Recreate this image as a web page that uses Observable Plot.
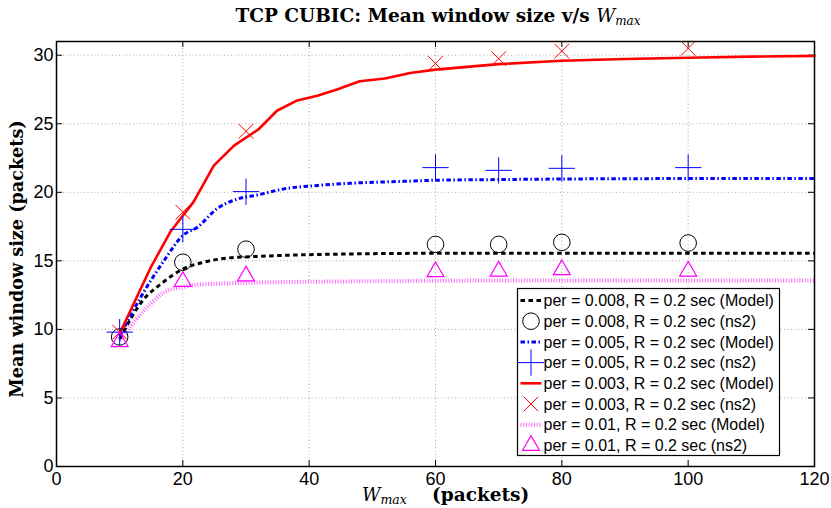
<!DOCTYPE html>
<html><head><meta charset="utf-8">
<script src="https://cdn.jsdelivr.net/npm/d3@7"></script>
<script src="https://cdn.jsdelivr.net/npm/@observablehq/plot@0.6"></script>
<style>body{margin:0;background:#fff} svg{display:block}</style>
</head><body><div id="chart"></div>
<script>
// ---- data ----
const xTicks = [0, 20, 40, 60, 80, 100, 120];
const yTicks = [0, 5, 10, 15, 20, 25, 30];

// Model curves
const redModelX = [10, 14.9, 18, 21.7, 24.9, 28.1, 32, 34.9, 38.1, 41.3, 44.4, 48, 52, 56, 60, 65, 70, 80, 90, 100, 110, 120];
const redModelY = [9.7, 14.5, 17.1, 19.3, 21.95, 23.4, 24.6, 25.95, 26.7, 27.05, 27.5, 28.1, 28.3, 28.7, 28.95, 29.15, 29.35, 29.6, 29.72, 29.82, 29.9, 29.95];
const blueModelX = [10, 14.3, 17, 20, 22.3, 25.4, 28.6, 31.8, 36, 41.3, 46.5, 55, 60, 70, 80, 100, 120];
const blueModelY = [9.5, 13.1, 15.0, 16.85, 17.45, 18.8, 19.5, 19.8, 20.25, 20.5, 20.66, 20.8, 20.88, 20.93, 20.97, 21.0, 21.0];
const blackModelX = [10, 13.8, 16.5, 20, 23.3, 27, 30.7, 36, 46, 60, 80, 100, 120];
const blackModelY = [9.3, 12.2, 13.3, 14.4, 14.9, 15.2, 15.3, 15.4, 15.5, 15.55, 15.55, 15.55, 15.55];
const pinkModelX = [10, 14.9, 17, 20, 22.8, 30, 46, 60, 80, 100, 120];
const pinkModelY = [9.2, 11.87, 12.7, 13.1, 13.27, 13.4, 13.5, 13.55, 13.57, 13.57, 13.57];

// ns2 simulation points
const ns2X = [10, 20, 30, 60, 70, 80, 100];
const circleY = [9.45, 14.9, 15.85, 16.2, 16.2, 16.35, 16.3];
const plusY = [9.8, 17.3, 20.05, 21.8, 21.6, 21.75, 21.8];
const crossY = [9.8, 18.55, 24.45, 29.4, 29.75, 30.3, 30.5];
const triangleY = [9.1, 13.5, 13.9, 14.2, 14.25, 14.35, 14.25];

const legendLabels = [
  "per = 0.008, R = 0.2 sec (Model)",
  "per = 0.008, R = 0.2 sec (ns2)",
  "per = 0.005, R = 0.2 sec (Model)",
  "per = 0.005, R = 0.2 sec (ns2)",
  "per = 0.003, R = 0.2 sec (Model)",
  "per = 0.003, R = 0.2 sec (ns2)",
  "per = 0.01, R = 0.2 sec (Model)",
  "per = 0.01, R = 0.2 sec (ns2)"
];

// ---- styles ----
const S = {
  black: {stroke: "#000", strokeWidth: 3, strokeDasharray: "4.5,3.5"},
  blue: {stroke: "#0000ff", strokeWidth: 3, strokeDasharray: "4.5,2.5,1.5,2.5"},
  red: {stroke: "#ff0000", strokeWidth: 2.6},
  pink: {stroke: "#ff66ff", strokeWidth: 4, strokeDasharray: "1,1.7"}
};
const M = {
  circle: {symbol: "circle", r: 8.3, stroke: "#000", fill: "none", strokeWidth: 1},
  plus: {symbol: "plus", r: 8.5, stroke: "#0000ff", fill: "none", strokeWidth: 1},
  times: {symbol: "times", r: 6.7, stroke: "#ff0000", fill: "none", strokeWidth: 1},
  triangle: {symbol: "triangle2", r: 8.1, stroke: "#ff00ff", fill: "none", strokeWidth: 1.2}
};

const zip = (xs, ys) => xs.map((x, i) => ({x, y: ys[i]}));

const W = 831, H = 508, mL = 56, mR = 17, mT = 41, mB = 42;
const fw = W - mL - mR, fh = H - mT - mB;

const plot = Plot.plot({
  width: W, height: H,
  marginLeft: mL, marginRight: mR, marginTop: mT, marginBottom: mB,
  style: {fontFamily: "'Liberation Sans', Arial, sans-serif", fontSize: "18px", background: "#fff", color: "#000"},
  x: {domain: [0, 120], ticks: xTicks, tickSize: 0, tickPadding: 6, label: null},
  y: {domain: [0, 31], ticks: yTicks, tickSize: 0, tickPadding: 3, label: null},
  marks: [
    Plot.ruleX(xTicks.slice(1, -1), {stroke: "#aaa", strokeDasharray: "1,2.5", strokeWidth: 1}),
    Plot.ruleY(yTicks.slice(1), {stroke: "#aaa", strokeDasharray: "1,2.5", strokeWidth: 1}),
    // inward ticks
    Plot.ruleX(xTicks, {insetTop: fh - 6, stroke: "#000", strokeWidth: 1}),
    Plot.ruleX(xTicks, {insetBottom: fh - 6, stroke: "#000", strokeWidth: 1}),
    Plot.ruleY(yTicks, {insetRight: fw - 6, stroke: "#000", strokeWidth: 1}),
    Plot.ruleY(yTicks, {insetLeft: fw - 6, stroke: "#000", strokeWidth: 1}),
    Plot.line(zip(pinkModelX, pinkModelY), {x: "x", y: "y", curve: "monotone-x", strokeLinecap: "butt", ...S.pink}),
    Plot.line(zip(blackModelX, blackModelY), {x: "x", y: "y", curve: "monotone-x", strokeLinecap: "butt", ...S.black}),
    Plot.line(zip(blueModelX, blueModelY), {x: "x", y: "y", curve: "monotone-x", strokeLinecap: "butt", ...S.blue}),
    Plot.line(zip(redModelX, redModelY), {x: "x", y: "y", curve: "linear", ...S.red}),
    Plot.dot(zip(ns2X, circleY), {x: "x", y: "y", ...M.circle}),
    Plot.dot(zip(ns2X, plusY), {x: "x", y: "y", ...M.plus}),
    Plot.dot(zip(ns2X, crossY), {x: "x", y: "y", ...M.times}),
    Plot.dot(zip(ns2X, triangleY), {x: "x", y: "y", ...M.triangle}),
    Plot.frame({stroke: "#000", strokeWidth: 1.5})
  ]
});
document.getElementById("chart").appendChild(plot);

const svg = d3.select(plot);
const serif = "'DejaVu Serif', serif";

// Title
const t = svg.append("text").attr("x", 438).attr("y", 22).attr("text-anchor", "middle")
  .attr("font-family", serif).attr("font-size", 18.5).attr("font-weight", "bold").attr("fill", "#000");
t.append("tspan").text("TCP CUBIC: Mean window size v/s ");
t.append("tspan").attr("font-style", "italic").attr("font-weight", "normal").text("W");
t.append("tspan").attr("font-style", "italic").attr("font-weight", "normal").attr("font-size", 12).attr("dy", 3).text("max");

// Y label
svg.append("text").attr("transform", "translate(23,259) rotate(-90)").attr("text-anchor", "middle")
  .attr("font-family", serif).attr("font-size", 17.6).attr("font-weight", "bold").attr("fill", "#000")
  .text("Mean window size (packets)");

// X label
const xl = svg.append("text").attr("x", 362).attr("y", 501).attr("text-anchor", "start")
  .attr("font-family", serif).attr("font-size", 18).attr("fill", "#000");
xl.append("tspan").attr("font-style", "italic").text("W");
xl.append("tspan").attr("font-style", "italic").attr("font-size", 12.5).attr("dy", 3).text("max");
xl.append("tspan").attr("x", 432).attr("dy", -3).attr("font-weight", "bold").attr("font-size", 18.5).text("(packets)");

// Legend
const lg = svg.append("g").attr("text-anchor", "start");
lg.append("rect").attr("x", 517.5).attr("y", 288.5).attr("width", 262).attr("height", 167)
  .attr("fill", "#fff").attr("stroke", "#000").attr("stroke-width", 1.2);
const entries = [
  {type: "line", s: S.black}, {type: "dot", m: M.circle},
  {type: "line", s: S.blue}, {type: "dot", m: M.plus},
  {type: "line", s: S.red}, {type: "dot", m: M.times},
  {type: "line", s: S.pink}, {type: "dot", m: M.triangle}
];
const symMap = {circle: d3.symbolCircle, plus: d3.symbolPlus, times: d3.symbolTimes, triangle2: d3.symbolTriangle2};
entries.forEach((e, i) => {
  const cy = 300.5 + i * 20.7;
  if (e.type === "line") {
    lg.append("line").attr("x1", 520.5).attr("x2", 541.5).attr("y1", cy).attr("y2", cy)
      .attr("stroke", e.s.stroke).attr("stroke-width", e.s.strokeWidth)
      .attr("stroke-dasharray", e.s.strokeDasharray || null);
  } else {
    lg.append("path").attr("transform", `translate(531,${cy})`)
      .attr("d", d3.symbol(symMap[e.m.symbol], e.m.r * e.m.r * Math.PI)())
      .attr("fill", "none").attr("stroke", e.m.stroke).attr("stroke-width", e.m.strokeWidth);
  }
  lg.append("text").attr("x", 543.5).attr("y", cy).attr("dy", "0.35em").attr("text-anchor", "start")
    .attr("font-family", "'Liberation Sans', Arial, sans-serif").attr("font-size", 16).attr("fill", "#000")
    .text(legendLabels[i]);
});
</script>
</body></html>
